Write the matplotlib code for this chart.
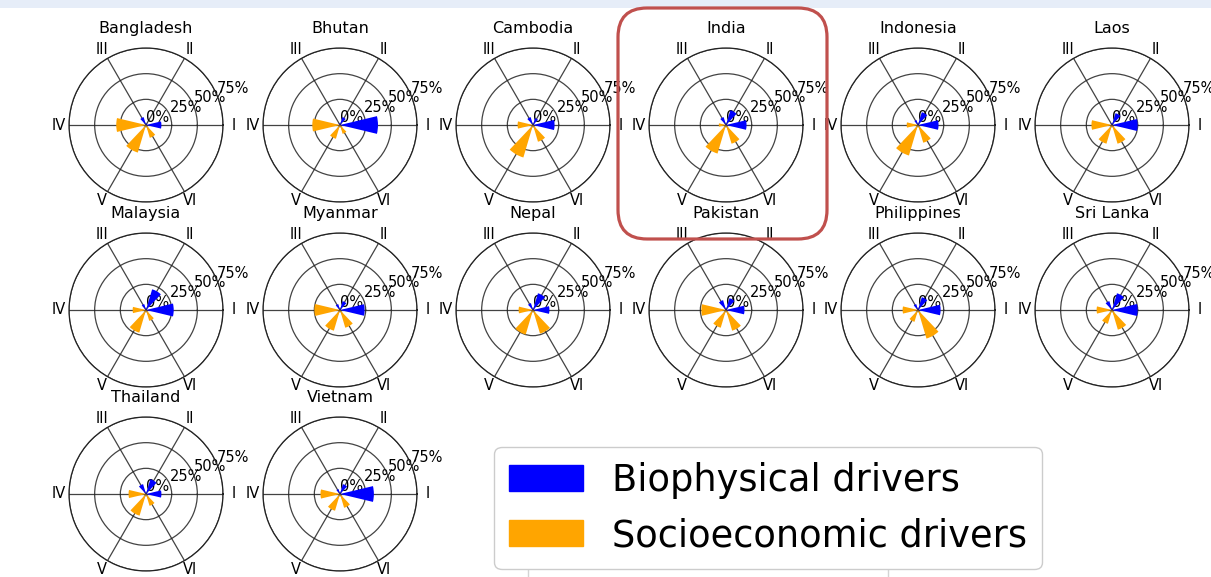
import numpy as np
import matplotlib
matplotlib.use("Agg")
import matplotlib.pyplot as plt
from matplotlib.patches import FancyBboxPatch, Rectangle, Patch

countries = ["Bangladesh", "Bhutan", "Cambodia", "India", "Indonesia", "Laos",
             "Malaysia", "Myanmar", "Nepal", "Pakistan", "Philippines", "Sri Lanka",
             "Thailand", "Vietnam"]

# shares for sectors I, II, III (biophysical)
bio = [[0.15, 0.02, 0.08], [0.37, 0.08, 0.02], [0.21, 0.07, 0.08], [0.20, 0.15, 0.08],
       [0.20, 0.13, 0.05], [0.25, 0.12, 0.02], [0.27, 0.21, 0.06], [0.24, 0.09, 0.06],
       [0.16, 0.17, 0.07], [0.18, 0.12, 0.10], [0.22, 0.13, 0.06], [0.25, 0.17, 0.09],
       [0.15, 0.15, 0.10], [0.33, 0.10, 0.05]]
# shares for sectors IV, V, VI (socioeconomic)
soc = [[0.29, 0.28, 0.13], [0.27, 0.14, 0.09], [0.15, 0.33, 0.17], [0.07, 0.29, 0.19],
       [0.11, 0.31, 0.18], [0.20, 0.19, 0.19], [0.13, 0.23, 0.11], [0.25, 0.21, 0.18],
       [0.14, 0.25, 0.24], [0.24, 0.18, 0.21], [0.15, 0.12, 0.29], [0.15, 0.14, 0.20],
       [0.17, 0.22, 0.12], [0.19, 0.17, 0.14]]

sector_labels = ["I", "II", "III", "IV", "V", "VI"]
r_ticks = [0, 0.25, 0.5, 0.75]
r_labels = ["0%", "25%", "50%", "75%"]

W, H = 1211, 577
fig = plt.figure(figsize=(W / 100, H / 100), dpi=100)

# light slide band along the top
fig.patches.append(Rectangle((0, 1 - 8 / H), 1, 8 / H, transform=fig.transFigure,
                             facecolor="#e6edf8", edgecolor="none", zorder=0))

col_x = [146, 340, 533, 726, 918, 1112]
row_y = [125, 310, 494]
diam = 154

theta_bio = np.deg2rad([0, 60, 120])
theta_soc = np.deg2rad([180, 240, 300])
width = 0.47

for i, name in enumerate(countries):
    cx = col_x[i % 6]
    cy = row_y[i // 6]
    ax = fig.add_axes([(cx - diam / 2) / W, 1 - (cy + diam / 2) / H, diam / W, diam / H],
                      projection="polar")
    ax.bar(theta_bio, bio[i], width=width, color="blue", edgecolor="none", zorder=3)
    ax.bar(theta_soc, soc[i], width=width, color="orange", edgecolor="none", zorder=3)
    ax.set_ylim(0, 0.75)
    ax.set_yticks(r_ticks)
    ax.set_yticklabels(r_labels, fontsize=10.5)
    ax.set_xticks(np.deg2rad(np.arange(0, 360, 60)))
    ax.set_xticklabels(sector_labels, fontsize=10.5)
    ax.tick_params(axis="x", pad=-3)
    ax.grid(True, color="#222222", linewidth=0.9, alpha=0.85)
    ax.spines["polar"].set_color("#222222")
    ax.spines["polar"].set_linewidth(0.9)
    ax.set_title(name, fontsize=11.5, y=1.0, pad=11)

handles = [Patch(color="blue", label="Biophysical drivers"),
           Patch(color="orange", label="Socioeconomic drivers")]
fig.legend(handles=handles, loc="center", fontsize=26.5,
           bbox_to_anchor=(768 / W, 1 - 508 / H), handlelength=2.0, handleheight=0.7,
           framealpha=1)

# outline of the panel behind the legend
fig.patches.append(Rectangle((528 / W, -0.05), 360 / W, 0.2, transform=fig.transFigure,
                             facecolor="none", edgecolor="#d4d4d4", linewidth=1, zorder=0))

# highlight around India
fig.patches.append(FancyBboxPatch((618 / W, 1 - 239 / H), 209 / W, 231 / H,
                                  boxstyle="round,pad=0,rounding_size=0.024",
                                  transform=fig.transFigure, facecolor="none",
                                  edgecolor="#c0504d", linewidth=2.3, zorder=10,
                                  mutation_aspect=W / H))

fig.savefig("out.png", dpi=100)
